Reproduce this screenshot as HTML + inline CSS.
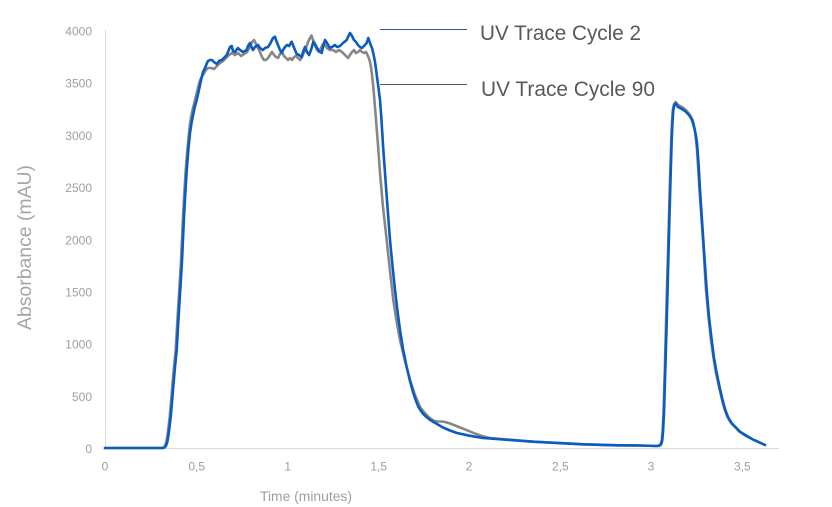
<!DOCTYPE html>
<html><head><meta charset="utf-8"><style>
html,body{margin:0;padding:0;background:#fff;}
svg{display:block;}
text{font-family:"Liberation Sans",sans-serif;}
</style></head><body>
<svg width="832" height="507" viewBox="0 0 832 507" xmlns="http://www.w3.org/2000/svg">
<rect width="832" height="507" fill="#fff"/>
<line x1="105.5" y1="30" x2="105.5" y2="448.5" stroke="#d9d9d9" stroke-width="1"/>
<line x1="105" y1="448.5" x2="779" y2="448.5" stroke="#d9d9d9" stroke-width="1"/>
<g fill="#9e9e9e" font-size="12" text-anchor="end">
<text x="92" y="35.5">4000</text>
<text x="92" y="87.7">3500</text>
<text x="92" y="139.9">3000</text>
<text x="92" y="192.1">2500</text>
<text x="92" y="244.3">2000</text>
<text x="92" y="296.5">1500</text>
<text x="92" y="348.7">1000</text>
<text x="92" y="400.9">500</text>
<text x="92" y="453.1">0</text>
</g>
<g fill="#9e9e9e" font-size="12" text-anchor="middle">
<text x="105" y="470.5">0</text>
<text x="196.7" y="470.5">0,5</text>
<text x="287.7" y="470.5">1</text>
<text x="378.7" y="470.5">1,5</text>
<text x="469" y="470.5">2</text>
<text x="560.3" y="470.5">2,5</text>
<text x="651" y="470.5">3</text>
<text x="742.3" y="470.5">3,5</text>
</g>
<text x="260" y="501" font-size="13.5" fill="#9e9e9e" textLength="92" lengthAdjust="spacingAndGlyphs">Time (minutes)</text>
<text transform="translate(31,330) rotate(-90)" font-size="19" fill="#a6a6a6" textLength="165" lengthAdjust="spacingAndGlyphs">Absorbance (mAU)</text>
<line x1="380" y1="29.5" x2="467" y2="29.5" stroke="#1f5fb4" stroke-width="1"/>
<line x1="380" y1="84.5" x2="467" y2="84.5" stroke="#595959" stroke-width="1"/>
<text x="480" y="40" font-size="21" fill="#595959" textLength="161" lengthAdjust="spacingAndGlyphs">UV Trace Cycle 2</text>
<text x="481" y="96" font-size="21" fill="#595959" textLength="174" lengthAdjust="spacingAndGlyphs">UV Trace Cycle 90</text>
<polyline fill="none" stroke="#878787" stroke-width="2.6" stroke-linejoin="round" stroke-linecap="round" points="105,448 162,448 163.5,447.5 164.5,446.5 165.5,444.5 166.5,441 167.5,435 168.5,427 169.7,417 171,402 172.5,384 174,367 175.7,350 177,327 178.3,305 179.7,283 181,261 182,239 183,217 184.2,195 185.6,172 187.3,150 189,133 190,124 191,117 193,108 195,100 196.5,94 198,88 199.5,82 201,78 203,75 206,70 208,68 211,68 214,69 217,66 220,63 223,61 226,58 229,55 232,53 235,55 238,53 241,56 244,54 247,52 250,47 252,42 254,40 256,44 258,48 260,52 262,57 264,60 266,60 268,58 270,55 272,52 274,55 276,57 278,58 280,54 282,52 284,56 286,58 288,60 290,58 292,60 294,57 296,56 298,58 300,60 302,57 304,52 306,48 308,42 310,38 311.5,35.5 313,40 315,45 317,50 319,52 321,48 323,44 325,45 327,48 330,50 333,50 336,52 339,50 342,52 345,55 348,58 350,55 352,52 354,50 356,53 358,52 360,50 362,52 364,53 366,52 368,56 369,58.5 370,62 371,67 372,75 373,84 374,95 375,107 376,120 378,145 380,173 383,207 386.7,240 390,271 393.3,300 396.5,321 400,340 405,361 410,380 415,395 420,407 424,412 428,416.5 431,419 434,420.8 437,421.5 441,421.5 445,422 450,423.5 455,425.5 460,427.5 467,430.2 473,432.8 483,436.3 490,438 533,441.7 583,444.3 617,445.3 640,445.5 656,446 658.5,445.7 660,444.8 661,443 661.8,440 662.5,432 663.5,413 664.8,370 666,323 667.4,273 668.8,223 670,180 671.2,140 672,122 672.8,110 674,104 675.5,102 678,105 682,107 686,110 690,115 693,121 694.5,128 695.5,135 697,150 699.5,190 703,240 706,290 708.5,317 711,340 713.5,358 716,373 719.5,389 722.8,403 725,410.5 727.5,417 729.5,420.5 731.5,423.5 734.5,426.5 739.5,431.7 746,436 753,439.5 765,445"/>
<polyline fill="none" stroke="#0a5cbf" stroke-width="2.6" stroke-linejoin="round" stroke-linecap="round" points="105,448 163,448 164.5,447.5 165.5,446.5 166.5,444.5 167.5,441 168.5,435 169.5,427 170.7,417 172,402 173.5,384 175,367 176.7,350 178,327 179.3,305 180.7,283 182,261 183,239 184,217 185.2,195 186.6,172 188.3,150 190,133 191.5,123 192.7,117 194.5,108 196.7,100 198.5,92 200,85 201.5,78 203,72 205,68 207,63 208,61 210,60 212,60 214,62 216.7,64 219,61 221.7,60 224,58 226.7,55 228,52 230,47 231.7,46 233,51 235,52 237,49 238,48 240,50 243,52 246.7,50 248,46 250,43 251,46 253,50 255,47 258,45 260,48 263,50 265,48 268,47 270,44 272,40 273,38 275,36.7 276,40 278,45 280,50 281.7,53 283,50 285,47 287,45 289,46 291.7,41.7 293,45 295,50 296.7,54 299,55 301.7,57 303,52 305,47 307,52 309,55 311,50 313.3,42 315,44 317,48 319,51 321.7,53 323,47 325,40 327,43 330,48 332,47 335,45 337,47 340,46 343,43 346.7,40 348,37 350,33 352,36 354,40 356,42 358,45 360,47 362,48 364,46 366.7,43 368.3,38 369,40 370.7,45 372,48 373,52 374,56.5 375,62 376,69 377,77 378.5,88 380,100 381.5,120 383,145 385,173 387.5,207 390,240 392.5,266 395,290 397.5,311 400,330 403,349 406.7,367 410,381 413.3,393 416,401 418.5,407 421,411 423.3,414 426.5,417 430,419.8 433.5,422 437,424 443,427.5 450,430.5 457,433 470,435.8 483,438 533,441.7 583,444.3 617,445.3 640,445.5 657,446 659,445.8 660.5,445 661.5,443.5 662.3,440 663,432 664,413 665.3,370 666.7,323 668,273 669.3,223 670.5,180 671.7,140 672.5,122 673.3,110 674.5,105 676,103.5 678,107 680,108 682,109 685,111 688,114 690,116.5 692,120 693.5,125 695,131 696,136 697,143 698.5,163 700,190 703.3,240 706.7,290 709,317 711.7,340 714,358 716.7,373 720,389 723.3,403 725.5,410.5 728,417 730,420.5 732,423.5 735,426.5 740,431.7 747,436 753,439.5 765,445"/>
</svg>
</body></html>
